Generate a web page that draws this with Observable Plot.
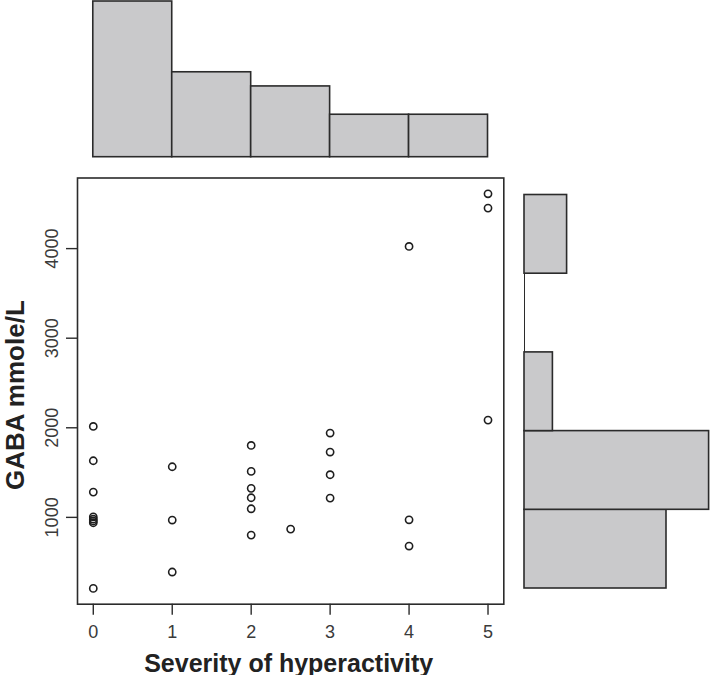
<!DOCTYPE html>
<html>
<head>
<meta charset="utf-8">
<script src="https://cdn.jsdelivr.net/npm/d3@7"></script>
<script src="https://cdn.jsdelivr.net/npm/@observablehq/plot@0.6"></script>
<style>
  html, body { margin: 0; padding: 0; background: white; }
  #wrap { position: relative; width: 710px; height: 675px; overflow: hidden; background: white; }
  #wrap > svg { position: absolute; }
</style>
</head>
<body>
<div id="wrap"></div>
<script>
// ---- data ----
const severity = [0,0,0,0,0,0,0,0, 1,1,1, 2,2,2,2,2,2, 2.5, 3,3,3,3, 4,4,4, 5,5,5];
const gaba     = [2015,1632,1282,1005,980,960,940,207, 1565,970,390, 1803,1513,1324,1219,1096,802, 869, 1941,1729,1476,1215, 4024,973,680, 4612,4452,2086];

const sevBreaks  = [0,1,2,3,4,5];
const sevCounts  = [11,6,5,3,3];
const gabaBreaks = [0,1000,2000,3000,4000,5000];
const gabaCounts = [10,13,2,0,3];

const xTicks = [0,1,2,3,4,5];
const yTicks = [1000,2000,3000,4000];
const xTitle = "Severity of hyperactivity";
const yTitle = "GABA mmole/L";

// ---- derived tables ----
const points = severity.map((s, i) => ({s, g: gaba[i]}));
const sevBins = sevCounts.map((c, i) => ({lo: sevBreaks[i], hi: sevBreaks[i+1], c}));
const gabaBins = gabaCounts.map((c, i) => ({lo: gabaBreaks[i], hi: gabaBreaks[i+1], c}));

// R-style 4% axis extension
const ext = ([a, b]) => [a - 0.04 * (b - a), b + 0.04 * (b - a)];
const xDom = ext(d3.extent(severity));
const yDom = ext(d3.extent(gaba));

const FONT = "'Liberation Sans', Arial, Helvetica, sans-serif";
const INK = "#2b2b2b";
const FILL = "#c9c9cb";
const baseStyle = {fontFamily: FONT, fontSize: "18px", color: INK, background: "transparent", overflow: "visible"};
const wrap = document.getElementById("wrap");

// ---- main scatter ----
const mainChart = Plot.plot({
  width: 520, height: 505,
  marginLeft: 77, marginRight: 16.7, marginTop: 7.5, marginBottom: 71.3,
  style: baseStyle,
  x: {domain: xDom, axis: null},
  y: {domain: yDom, axis: null},
  marks: [
    Plot.frame({stroke: INK, strokeWidth: 1.6}),
    Plot.axisX({ticks: xTicks, tickFormat: d => String(d), tickSize: 11, tickPadding: 10, fontSize: 18,
      stroke: INK, strokeWidth: 1.4, fill: "#3a3a3a", label: null}),
    Plot.axisY({ticks: yTicks, tickSize: 11, tickFormat: () => "", stroke: INK, strokeWidth: 1.4, label: null}),
    Plot.text(yTicks, {y: d => d, text: d => String(d), frameAnchor: "left", dx: -25.3, rotate: -90,
      textAnchor: "middle", lineAnchor: "middle", fontSize: 18, fill: "#3a3a3a"}),
    Plot.dot(points, {x: "s", y: "g", r: 3.6, stroke: "#1e1e1e", strokeWidth: 1.6, fill: "none"}),
    Plot.text([xTitle], {frameAnchor: "bottom", text: d => d, dx: -2, dy: 67.3, lineAnchor: "bottom",
      fontSize: 25, fontWeight: "bold", fill: "#222"}),
    Plot.text([yTitle], {frameAnchor: "left", text: d => d, dx: -62, dy: 4, rotate: -90, lineAnchor: "middle",
      textAnchor: "middle", fontSize: 26, fontWeight: "bold", fill: "#222"})
  ]
});
mainChart.style.left = "0px"; mainChart.style.top = "170px";
wrap.appendChild(mainChart);

// ---- top histogram ----
const topChart = Plot.plot({
  width: 520, height: 170,
  marginLeft: 77, marginRight: 16.7, marginTop: 1, marginBottom: 13.3,
  style: baseStyle,
  x: {domain: xDom, axis: null},
  y: {domain: [0, d3.max(sevCounts)], axis: null},
  marks: [
    Plot.rectY(sevBins, {x1: "lo", x2: "hi", y: "c", fill: FILL, stroke: INK, strokeWidth: 1.6})
  ]
});
topChart.style.left = "0px"; topChart.style.top = "0px";
wrap.appendChild(topChart);

// ---- right histogram ----
const rightChart = Plot.plot({
  width: 200, height: 505,
  marginLeft: 14, marginRight: 1.4, marginTop: 24.5, marginBottom: 87,
  style: baseStyle,
  x: {domain: [0, d3.max(gabaCounts)], axis: null},
  y: {domain: [gabaBreaks[0], gabaBreaks[gabaBreaks.length - 1]], axis: null},
  marks: [
    Plot.ruleX([0], {y1: gabaBreaks[0], y2: gabaBreaks[gabaBreaks.length - 1], stroke: INK, strokeWidth: 1}),
    Plot.rectX(gabaBins.filter(d => d.c > 0), {y1: "lo", y2: "hi", x: "c", fill: FILL, stroke: INK, strokeWidth: 1.6})
  ]
});
rightChart.style.left = "510px"; rightChart.style.top = "170px";
wrap.appendChild(rightChart);
</script>
</body>
</html>
